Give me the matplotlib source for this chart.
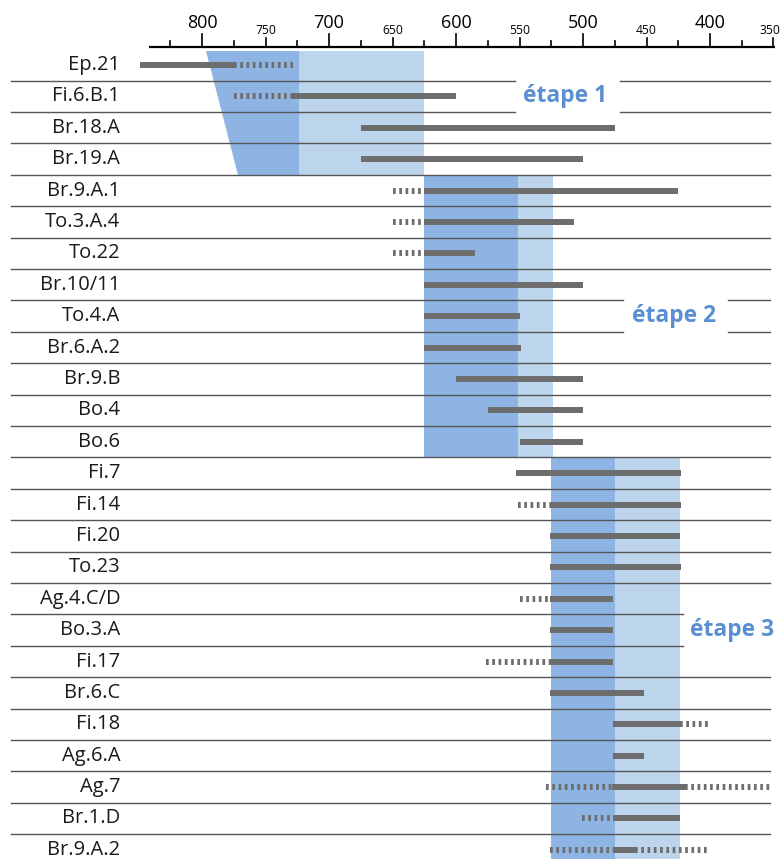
import matplotlib
matplotlib.use("Agg")
from matplotlib import pyplot as plt
from matplotlib.patches import Polygon, Rectangle

# Sites (top to bottom) and the solid part of each range (older -> younger);
sites = ["Ep.21", "Fi.6.B.1", "Br.18.A", "Br.19.A", "Br.9.A.1", "To.3.A.4",
         "To.22", "Br.10/11", "To.4.A", "Br.6.A.2", "Br.9.B", "Bo.4", "Bo.6",
         "Fi.7", "Fi.14", "Fi.20", "To.23", "Ag.4.C/D", "Bo.3.A", "Fi.17",
         "Br.6.C", "Fi.18", "Ag.6.A", "Ag.7", "Br.1.D", "Br.9.A.2"]
solid_old = [849, 728, 675, 675, 625, 625, 625, 625, 625, 625, 600, 575, 550,
             553, 526, 526, 526, 526, 526, 526, 526, 476, 476, 477, 476, 476]
solid_young = [775, 600, 475, 500, 425, 507, 585, 500, 550, 549, 500, 500, 500,
               423, 423, 424, 423, 476, 476, 476, 452, 424, 452, 420, 424, 459]

# Uncertain (dotted) extensions;
dot_rows = [0, 1, 4, 5, 6, 14, 17, 19, 21, 23, 23, 24, 25, 25]
dot_old = [775, 775, 650, 650, 650, 551, 550, 576, 424, 529, 420, 501, 526, 459]
dot_young = [728, 728, 625, 625, 625, 526, 526, 526, 399, 477, 353, 476, 476, 401]

# Stages: (dark start top, dark start bottom, dark/light limit, light end), row span;
stage_names = ["étape 1", "étape 2", "étape 3"]
stage_dark_top = [797, 625, 525]
stage_dark_bottom = [772, 625, 525]
stage_mid = [724, 551, 475]
stage_end = [625, 524, 424]
stage_row_from = [-0.44, 3.5, 12.5]
stage_row_to = [3.5, 12.5, 26.0]
stage_label_x = [514, 428, 383]
stage_label_row = [1, 8, 18]

# Axis ticks;
major_ticks = [800, 700, 600, 500, 400]
mid_ticks = [750, 650, 550, 450, 350]
minor_ticks = [825, 775, 725, 675, 625, 575, 525, 475, 425, 375]

DARK = "#8db4e3"
LIGHT = "#bdd4ed"
BAR = "#6d6d6d"
TXT_BLUE = "#5b8fd3"
plt.rcParams['font.family'] = ['Open Sans', 'DejaVu Sans']

fig = plt.figure(figsize=(7.82, 8.59), dpi=100)
ax = fig.add_axes([0, 0, 1, 1])
ax.set_xlim(959.1, 343.3)
ax.set_ylim(25.29, -2.07)
ax.axis('off')

# Stage shading;
for i in range(3):
    y0, y1 = stage_row_from[i], stage_row_to[i]
    ax.add_patch(Polygon([(stage_dark_top[i], y0), (stage_mid[i], y0),
                          (stage_mid[i], y1), (stage_dark_bottom[i], y1)],
                         closed=True, facecolor=DARK, edgecolor='none', zorder=1))
    ax.add_patch(Rectangle((stage_mid[i], y0), stage_end[i] - stage_mid[i], y1 - y0,
                           facecolor=LIGHT, edgecolor='none', zorder=1))

# Row separators, with gaps for the stage labels;
sep_left, sep_right = 950.4, 352.8
gaps = {0: (553.5, 470.9), 1: (553.5, 470.9), 7: (468.7, 385.8), 8: (468.7, 385.8),
        17: (421.3, None), 18: (421.3, None)}
for k in range(len(sites) - 1):
    y = k + 0.5
    if k in gaps:
        g0, g1 = gaps[k]
        ax.plot([sep_left, g0], [y, y], color="#555555", lw=1.0, zorder=2)
        if g1 is not None:
            ax.plot([g1, sep_right], [y, y], color="#555555", lw=1.0, zorder=2)
    else:
        ax.plot([sep_left, sep_right], [y, y], color="#555555", lw=1.0, zorder=2)

# Ranges;
rows = list(range(len(sites)))
ax.hlines(rows, solid_old, solid_young, color=BAR, lw=4.3, zorder=3)
ax.hlines(dot_rows, dot_old, dot_young, color=BAR, lw=4.3, zorder=3,
          linestyles=(0, (0.45, 0.6)))

# Site labels;
for r, name in enumerate(sites):
    ax.text(864.5, r, name, ha='right', va='center', fontsize=14.5, color="#1a1a1a")

# Stage labels;
for name, x, r in zip(stage_names, stage_label_x, stage_label_row):
    ax.text(x, r, name, ha='center', va='center', fontsize=16.5,
            fontweight='bold', color=TXT_BLUE, zorder=4)

# Top scale;
axis_y = -0.58
ax.plot([841.7, 349], [axis_y, axis_y], color='black', lw=1.6, solid_capstyle='butt')
for t in major_ticks:
    ax.plot([t, t], [axis_y, axis_y - 0.41], color='black', lw=1.2)
    ax.text(t, -1.17, str(t), ha='center', va='baseline', fontsize=13)
for t in mid_ticks:
    ax.plot([t, t], [axis_y, axis_y - 0.29], color='black', lw=1.2)
    # keep the last label inside the picture;
    ax.text(max(t, 352.5), -0.99, str(t), ha='center', va='baseline', fontsize=8.7)
for t in minor_ticks:
    ax.plot([t, t], [axis_y, axis_y - 0.19], color='black', lw=1.2)

fig.savefig("out.png", dpi=100)
